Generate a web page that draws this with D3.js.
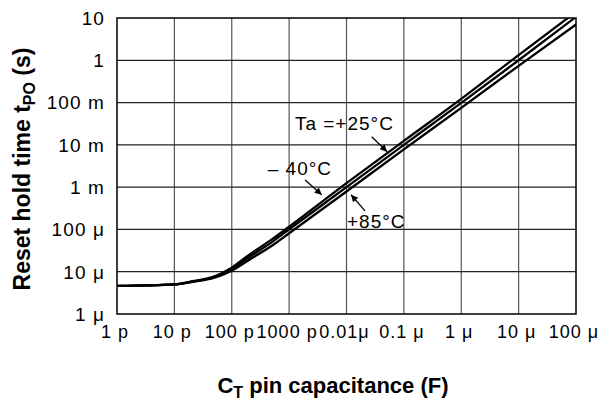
<!DOCTYPE html>
<html>
<head>
<meta charset="utf-8">
<script src="https://cdn.jsdelivr.net/npm/d3@7"></script>
<style>
  html, body { margin: 0; padding: 0; background: #fff; }
  svg { display: block; font-family: "Liberation Sans", Arial, sans-serif; }
</style>
</head>
<body>
<svg width="604" height="402"></svg>
<script>
// capacitance (F) at which the curves were read
const capValues = [1e-12, 1e-11, 2e-11, 5e-11, 1e-10, 2e-10, 5e-10, 1e-9, 1e-8, 1e-7, 1e-6, 1e-5, 1e-4];
// reset hold time (s) per temperature
const tMinus40 = [4.6e-6, 5.0e-6, 5.9e-6, 7.8e-6, 12.5e-6, 25e-6, 58e-6, 116e-6, 1.24e-3, 12.4e-3, 0.122, 1.33, 14];
const t25 = [4.6e-6, 5.0e-6, 5.8e-6, 7.5e-6, 11.5e-6, 22e-6, 50e-6, 101e-6, 1.0e-3, 10e-3, 0.098, 1.0, 10.6];
const t85 = [4.6e-6, 5.0e-6, 5.7e-6, 7.2e-6, 10.5e-6, 19e-6, 41e-6, 81e-6, 0.79e-3, 7.8e-3, 0.075, 0.74, 7.0];

const xTicks = [1e-12, 1e-11, 1e-10, 1e-9, 1e-8, 1e-7, 1e-6, 1e-5, 1e-4];
const xTickLabels = ["1 p", "10 p", "100 p", "1000 p", "0.01μ", "0.1 μ", "1 μ", "10 μ", "100 μ"];
const yTicks = [10, 1, 0.1, 0.01, 0.001, 1e-4, 1e-5, 1e-6];
const yTickLabels = ["10", "1", "100 m", "10 m", "1 m", "100 μ", "10 μ", "1 μ"];

// annotations: text anchor and arrow (tail -> tip) in data units
const notes = [
  { text: "Ta =+25°C", x: 1.26e-9, y: 2.25e-2, anchor: "start", from: [2.75e-8, 1.55e-2], to: [5.1e-8, 6.9e-3] },
  { text: "– 40°C", x: 5.6e-9, y: 1.94e-3, anchor: "end", from: [1.9e-9, 1.48e-3], to: [3.7e-9, 6.6e-4] },
  { text: "+85°C", x: 1.02e-8, y: 1.08e-4, anchor: "start", from: [2.1e-8, 2.75e-4], to: [1.2e-8, 6.6e-4] }
];

const svg = d3.select("svg");
const margin = { top: 18, left: 117, right: 28, bottom: 88 };
const width = 604 - margin.left - margin.right,
  height = 402 - margin.top - margin.bottom;

const g = svg.append("g").attr("transform", `translate(${margin.left},${margin.top})`);

const x = d3.scaleLog().domain([1e-12, 1e-4]).range([0, width]);
const y = d3.scaleLog().domain([1e-6, 10]).range([height, 0]);

// grid
g.append("g")
  .selectAll("line")
  .data(xTicks.slice(1, -1))
  .join("line")
  .attr("x1", (d) => x(d))
  .attr("x2", (d) => x(d))
  .attr("y1", 0)
  .attr("y2", height)
  .attr("stroke", "#555")
  .attr("stroke-width", 1.2);
g.append("g")
  .selectAll("line")
  .data(yTicks.slice(1, -1))
  .join("line")
  .attr("x1", 0)
  .attr("x2", width)
  .attr("y1", (d) => y(d))
  .attr("y2", (d) => y(d))
  .attr("stroke", "#222")
  .attr("stroke-width", 1.2);

g.append("rect")
  .attr("width", width)
  .attr("height", height)
  .attr("fill", "none")
  .attr("stroke", "#000")
  .attr("stroke-width", 1.5);

// tick labels
g.append("g")
  .selectAll("text")
  .data(yTicks)
  .join("text")
  .attr("x", -12)
  .attr("y", (d) => y(d))
  .attr("dy", "0.36em")
  .attr("text-anchor", "end")
  .attr("font-size", 19)
  .attr("letter-spacing", 1.1)
  .text((d, i) => yTickLabels[i]);

g.append("g")
  .selectAll("text")
  .data(xTicks)
  .join("text")
  .attr("x", (d) => x(d))
  .attr("y", height + 24)
  .attr("dx", -2)
  .attr("text-anchor", "middle")
  .attr("font-size", 18)
  .attr("letter-spacing", 1)
  .text((d, i) => xTickLabels[i]);

// curves
g.append("clipPath").attr("id", "clip").append("rect").attr("width", width).attr("height", height);
const line = d3
  .line()
  .x((d) => x(d[0]))
  .y((d) => y(d[1]))
  .curve(d3.curveMonotoneX);
const series = [tMinus40, t25, t85];
g.append("g")
  .attr("clip-path", "url(#clip)")
  .selectAll("path")
  .data(series)
  .join("path")
  .attr("d", (s) => line(capValues.map((c, i) => [c, s[i]])))
  .attr("fill", "none")
  .attr("stroke", "#000")
  .attr("stroke-width", 2.3);

// annotations
svg.append("defs")
  .append("marker")
  .attr("id", "arrow")
  .attr("viewBox", "0 0 10 10")
  .attr("refX", 10)
  .attr("refY", 5)
  .attr("markerWidth", 10)
  .attr("markerHeight", 7)
  .attr("markerUnits", "userSpaceOnUse")
  .attr("orient", "auto")
  .append("path")
  .attr("d", "M0,0L10,5L0,10z")
  .attr("fill", "#000");

notes.forEach((n) => {
  g.append("text")
    .attr("x", x(n.x))
    .attr("y", y(n.y))
    .attr("text-anchor", n.anchor)
    .attr("font-size", 19)
    .attr("letter-spacing", 1)
    .text(n.text);
  g.append("line")
    .attr("x1", x(n.from[0]))
    .attr("y1", y(n.from[1]))
    .attr("x2", x(n.to[0]))
    .attr("y2", y(n.to[1]))
    .attr("stroke", "#000")
    .attr("stroke-width", 1.3)
    .attr("marker-end", "url(#arrow)");
});

// axis titles
const yTitle = svg
  .append("text")
  .attr("transform", `translate(30,${margin.top + height / 2 + 3}) rotate(-90)`)
  .attr("text-anchor", "middle")
  .attr("font-size", 23)
  .attr("font-weight", "bold");
yTitle.append("tspan").text("Reset hold time t");
yTitle.append("tspan").attr("font-size", 16).attr("dy", 5).text("PO");
yTitle.append("tspan").attr("dy", -5).text(" (s)");

const xTitle = svg
  .append("text")
  .attr("x", 333)
  .attr("y", 393)
  .attr("text-anchor", "middle")
  .attr("font-size", 22)
  .attr("font-weight", "bold");
xTitle.append("tspan").text("C");
xTitle.append("tspan").attr("font-size", 16).attr("dy", 5).text("T");
xTitle.append("tspan").attr("dy", -5).text(" pin capacitance (F)");
</script>
</body>
</html>
